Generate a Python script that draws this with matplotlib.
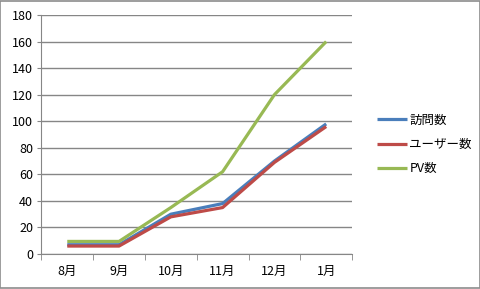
import matplotlib
matplotlib.use("Agg")
import matplotlib.pyplot as plt
from matplotlib.patches import Rectangle

plt.rcParams["font.family"] = ["Noto Sans CJK JP", "DejaVu Sans"]

months = ["8月", "9月", "10月", "11月", "12月", "1月"]
visits = [7, 7, 30, 38, 70, 98]
users = [6, 6, 28, 35, 69, 96]
pv = [9.5, 9.5, 35, 62, 120, 160]

series = [
    ("訪問数", visits, "#4a7ebb"),
    ("ユーザー数", users, "#be4b48"),
    ("PV数", pv, "#98b954"),
]

fig = plt.figure(figsize=(4.81, 2.89), dpi=100)
fig.patches.append(Rectangle((0.001, 0.002), 0.997, 0.995, transform=fig.transFigure,
                             fill=False, edgecolor="#8c8c8c", linewidth=1.2))
ax = fig.add_axes([0.086, 0.121, 0.646, 0.827])

x = list(range(len(months)))
for name, vals, color in series:
    ax.plot(x, vals, color=color, linewidth=2.3, label=name, solid_capstyle="butt")

ax.set_xlim(-0.5, len(months) - 0.5)
ax.set_ylim(0, 180)
ax.set_yticks(range(0, 181, 20))
ax.set_xticks(x)
ax.set_xticklabels(months)
ax.set_xticks([i - 0.5 for i in range(len(months) + 1)], minor=True)
ax.tick_params(axis="x", which="major", length=0, pad=8, labelsize=9)
ax.tick_params(axis="x", which="minor", length=4, color="#868686")
ax.tick_params(axis="y", length=3, color="#868686", labelsize=9, pad=3)
ax.grid(axis="y", color="#868686", linewidth=1)
ax.set_axisbelow(True)
for side in ["top", "right"]:
    ax.spines[side].set_visible(False)
for side in ["left", "bottom"]:
    ax.spines[side].set_color("#868686")

fig.legend(loc="center left", bbox_to_anchor=(0.76, 0.50), frameon=False,
           fontsize=9, handlelength=2.4, handletextpad=0.2, labelspacing=0.9)

fig.savefig("out.png", dpi=100)
